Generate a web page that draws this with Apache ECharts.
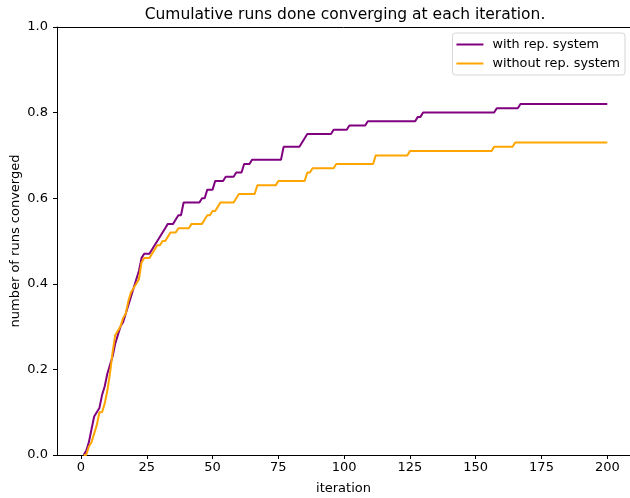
<!DOCTYPE html>
<html><head><meta charset="utf-8">
<script src="https://cdn.jsdelivr.net/npm/echarts@6/dist/echarts.min.js"></script>
<style>html,body{margin:0;padding:0;background:#fff}#c{width:630px;height:498px}</style>
</head><body><div id="c"></div>
<script>
const title = 'Cumulative runs done converging at each iteration.';
const xName = 'iteration';
const yName = 'number of runs converged';
const seriesNames = ['with rep. system', 'without rep. system'];
const firstIteration = 1;
const xTicks = [0, 25, 50, 75, 100, 125, 150, 175, 200];
const yTicks = [0, 0.2, 0.4, 0.6, 0.8, 1.0];

const withRep = [
0.00,0.01,0.03,0.06,0.09,0.10,0.11,0.14,0.16,0.19,
0.21,0.23,0.26,0.28,0.30,0.31,0.33,0.35,0.37,0.39,
0.41,0.43,0.46,0.47,0.47,0.47,0.48,0.49,0.50,0.51,
0.52,0.53,0.54,0.54,0.54,0.55,0.56,0.56,0.59,0.59,
0.59,0.59,0.59,0.59,0.59,0.60,0.60,0.62,0.62,0.62,
0.64,0.64,0.64,0.64,0.65,0.65,0.65,0.65,0.66,0.66,
0.66,0.68,0.68,0.68,0.69,0.69,0.69,0.69,0.69,0.69,
0.69,0.69,0.69,0.69,0.69,0.69,0.72,0.72,0.72,0.72,
0.72,0.72,0.72,0.73,0.74,0.75,0.75,0.75,0.75,0.75,
0.75,0.75,0.75,0.75,0.75,0.76,0.76,0.76,0.76,0.76,
0.76,0.77,0.77,0.77,0.77,0.77,0.77,0.77,0.78,0.78,
0.78,0.78,0.78,0.78,0.78,0.78,0.78,0.78,0.78,0.78,
0.78,0.78,0.78,0.78,0.78,0.78,0.78,0.79,0.79,0.80,
0.80,0.80,0.80,0.80,0.80,0.80,0.80,0.80,0.80,0.80,
0.80,0.80,0.80,0.80,0.80,0.80,0.80,0.80,0.80,0.80,
0.80,0.80,0.80,0.80,0.80,0.80,0.80,0.81,0.81,0.81,
0.81,0.81,0.81,0.81,0.81,0.81,0.82,0.82,0.82,0.82,
0.82,0.82,0.82,0.82,0.82,0.82,0.82,0.82,0.82,0.82,
0.82,0.82,0.82,0.82,0.82,0.82,0.82,0.82,0.82,0.82,
0.82,0.82,0.82,0.82,0.82,0.82,0.82,0.82,0.82,0.82
];

const withoutRep = [
0.00,0.00,0.02,0.03,0.05,0.07,0.10,0.10,0.12,0.15,
0.19,0.24,0.28,0.29,0.30,0.32,0.33,0.36,0.38,0.39,
0.40,0.41,0.45,0.46,0.46,0.46,0.47,0.48,0.49,0.49,
0.50,0.50,0.51,0.52,0.52,0.52,0.53,0.53,0.53,0.53,
0.53,0.54,0.54,0.54,0.54,0.54,0.55,0.56,0.56,0.57,
0.57,0.58,0.59,0.59,0.59,0.59,0.59,0.59,0.60,0.61,
0.61,0.61,0.61,0.61,0.61,0.61,0.63,0.63,0.63,0.63,
0.63,0.63,0.63,0.63,0.64,0.64,0.64,0.64,0.64,0.64,
0.64,0.64,0.64,0.64,0.64,0.66,0.66,0.67,0.67,0.67,
0.67,0.67,0.67,0.67,0.67,0.67,0.68,0.68,0.68,0.68,
0.68,0.68,0.68,0.68,0.68,0.68,0.68,0.68,0.68,0.68,
0.68,0.70,0.70,0.70,0.70,0.70,0.70,0.70,0.70,0.70,
0.70,0.70,0.70,0.70,0.71,0.71,0.71,0.71,0.71,0.71,
0.71,0.71,0.71,0.71,0.71,0.71,0.71,0.71,0.71,0.71,
0.71,0.71,0.71,0.71,0.71,0.71,0.71,0.71,0.71,0.71,
0.71,0.71,0.71,0.71,0.71,0.71,0.72,0.72,0.72,0.72,
0.72,0.72,0.72,0.72,0.73,0.73,0.73,0.73,0.73,0.73,
0.73,0.73,0.73,0.73,0.73,0.73,0.73,0.73,0.73,0.73,
0.73,0.73,0.73,0.73,0.73,0.73,0.73,0.73,0.73,0.73,
0.73,0.73,0.73,0.73,0.73,0.73,0.73,0.73,0.73,0.73
];

const FONT = 'DejaVu Sans';
const X_MIN = -9.12, X_MAX = 208.63;
const pairs = arr => arr.map((v, i) => [firstIteration + i, v]);

const chart = echarts.init(document.getElementById('c'), null, {renderer: 'canvas'});
chart.setOption({
  animation: false,
  backgroundColor: '#fff',
  title: {
    text: title, left: 340, top: 2, textAlign: 'center',
    textStyle: {fontFamily: FONT, fontSize: 15.5, fontWeight: 'normal', color: '#000'}
  },
  legend: {
    orient: 'vertical', right: 5, top: 33,
    data: seriesNames,
    icon: 'rect', itemWidth: 27, itemHeight: 2, itemGap: 6,
    padding: [5, 5, 5, 4],
    borderColor: '#d6d6d6', borderWidth: 1, borderRadius: 3,
    backgroundColor: 'rgba(255,255,255,0.8)',
    textStyle: {fontFamily: FONT, fontSize: 12.8, color: '#000', padding: [0, 0, 0, 4]}
  },
  grid: {left: 57, right: 0, top: 27, bottom: 43, containLabel: false, outerBoundsMode: 'none'},
  xAxis: [{
    type: 'value', min: X_MIN, max: X_MAX,
    name: xName, nameLocation: 'middle', nameGap: 27, nameMoveOverlap: false,
    nameTextStyle: {fontFamily: FONT, fontSize: 13, color: '#000'},
    axisLine: {show: true, onZero: false, lineStyle: {color: '#000', width: 1}},
    axisTick: {show: true, inside: false, length: 4, lineStyle: {color: '#000'}, customValues: xTicks},
    axisLabel: {fontFamily: FONT, fontSize: 13, color: '#000', margin: 6, customValues: xTicks},
    splitLine: {show: false}
  }, {
    type: 'value', position: 'top', min: X_MIN, max: X_MAX,
    axisLine: {show: true, onZero: false, lineStyle: {color: '#000', width: 1}},
    axisTick: {show: false}, axisLabel: {show: false}, splitLine: {show: false}
  }],
  yAxis: {
    type: 'value', min: 0, max: 1, interval: 0.2,
    name: yName, nameLocation: 'middle', nameGap: 35, nameRotate: 90, nameMoveOverlap: false,
    nameTextStyle: {fontFamily: FONT, fontSize: 13, color: '#000'},
    axisLine: {show: true, onZero: false, lineStyle: {color: '#000', width: 1}},
    axisTick: {show: true, inside: false, length: 4, lineStyle: {color: '#000'}},
    axisLabel: {fontFamily: FONT, fontSize: 13, color: '#000', margin: 9,
      formatter: v => v.toFixed(1)},
    splitLine: {show: false}
  },
  series: [
    {name: seriesNames[0], type: 'line', data: pairs(withRep), showSymbol: false, symbol: 'none',
     lineStyle: {color: '#800080', width: 2}, itemStyle: {color: '#800080'}},
    {name: seriesNames[1], type: 'line', data: pairs(withoutRep), showSymbol: false, symbol: 'none',
     lineStyle: {color: '#FFA500', width: 2}, itemStyle: {color: '#FFA500'}}
  ]
});
</script>
</body></html>
